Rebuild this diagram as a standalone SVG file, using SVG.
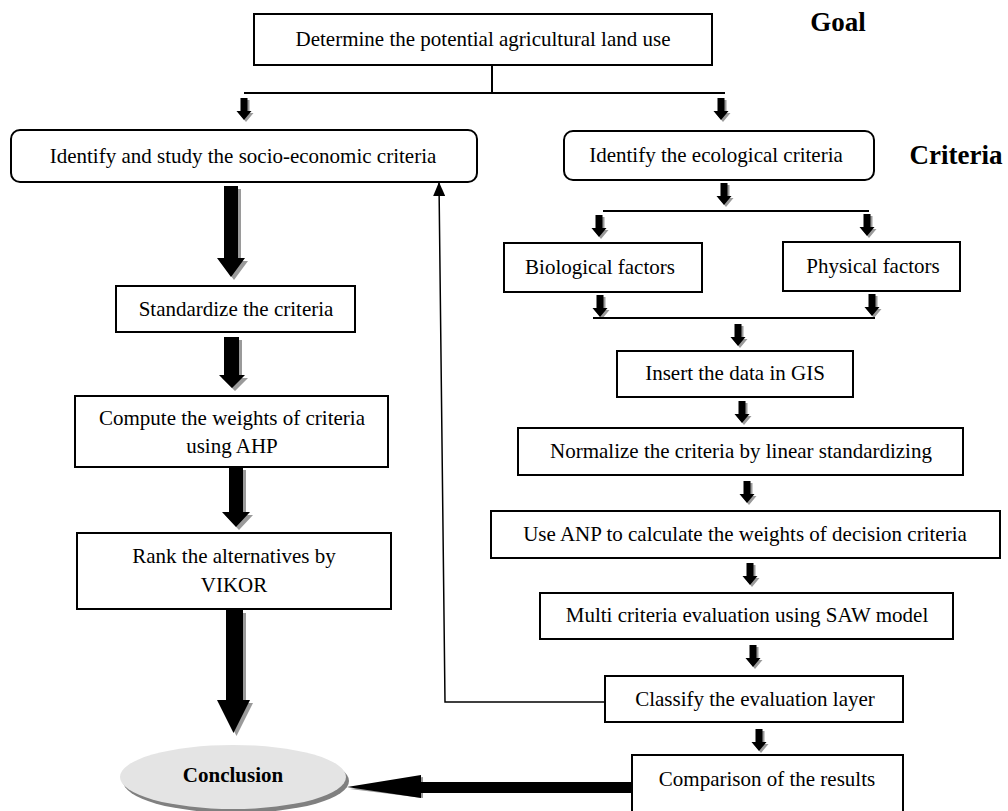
<svg xmlns="http://www.w3.org/2000/svg" width="1008" height="811" viewBox="0 0 1008 811">
<style>
.box{fill:#fff;stroke:#000;stroke-width:2}
.t{font-family:"Liberation Serif","Times New Roman",serif;font-size:21px;fill:#000;text-anchor:middle}
.b{font-weight:bold}
.ln{stroke:#000;stroke-width:2;fill:none}
.sh{fill:#9a9a9a}
.ar{fill:#000}
</style>
<defs>
<g id="sa">
<path class="sh" d="M-1.5,2 h7 v13 h4 l-7.5,9 l-7.5,-9 h4 z"/>
<path class="ar" d="M-3.5,0 h7 v13 h4 l-7.5,9 l-7.5,-9 h4 z"/>
</g>
<marker id="up" markerWidth="14" markerHeight="12" refX="13" refY="6" orient="auto" markerUnits="userSpaceOnUse" viewBox="0 0 14 12">
<path d="M0,0 L14,6 L0,12 z" fill="#000"/>
</marker>
</defs>

<text class="t b" x="838" y="31" style="font-size:27px">Goal</text>
<text class="t b" x="956" y="164" style="font-size:27px">Criteria</text>

<g id="connectors">
<path class="ln" d="M492,65 V93 M244,93 H725"/>
<use href="#sa" x="244" y="98"/>
<use href="#sa" x="721" y="98"/>
<use href="#sa" x="724" y="183"/>
<path class="ln" d="M603,211 H869"/>
<use href="#sa" x="599" y="215"/>
<use href="#sa" x="867" y="214"/>
<use href="#sa" x="600" y="295"/>
<use href="#sa" x="872" y="294"/>
<path class="ln" d="M593,318 H875"/>
<use href="#sa" x="738" y="324"/>
<use href="#sa" x="742" y="401"/>
<use href="#sa" x="747" y="481"/>
<use href="#sa" x="750" y="563"/>
<use href="#sa" x="753" y="645"/>
<use href="#sa" x="759" y="729"/>
<path d="M605,702 H445 L439,183" stroke="#000" stroke-width="1.5" fill="none" marker-end="url(#up)"/>
<path class="sh" d="M227,189 h14 v72 h7 l-14,19 l-14,-19 h7 z"/>
<path class="ar" d="M224,186 h14 v72 h7 l-14,19 l-14,-19 h7 z"/>
<path class="sh" d="M227,340 h15 v38 h6 l-13,13 l-13,-13 h5 z"/>
<path class="ar" d="M224,337 h15 v38 h6 l-13,13 l-13,-13 h5 z"/>
<path class="sh" d="M232,470 h14 v45 h7 l-14,15 l-14,-15 h7 z"/>
<path class="ar" d="M229,467 h14 v45 h7 l-14,15 l-14,-15 h7 z"/>
<path class="sh" d="M229,613 h17 v90 h7 l-16.5,33 l-16.5,-33 h9 z"/>
<path class="ar" d="M226,610 h17 v90 h7 l-16.5,33 l-16.5,-33 h9 z"/>
<path class="sh" d="M632,785 H423 v13 l-73,-9 l73,-12 v10 z"/>
<path class="ar" d="M632,782 H421 v-7 l-74,12 l74,11 v-5 H632 z"/>
</g>

<g id="goal"><rect class="box" x="254" y="14" width="458" height="51"/><text class="t" x="483" y="46">Determine the potential agricultural land use</text></g>
<g id="socio"><rect class="box" x="11" y="130" width="466" height="52" rx="9"/><text class="t" x="243" y="163">Identify and study the socio-economic criteria</text></g>
<g id="eco"><rect class="box" x="564" y="131" width="310" height="49" rx="9"/><text class="t" x="716" y="162">Identify the ecological criteria</text></g>
<g id="bio"><rect class="box" x="504" y="243" width="198" height="49"/><text class="t" x="600" y="274">Biological factors</text></g>
<g id="phys"><rect class="box" x="783" y="242" width="177" height="49"/><text class="t" x="873" y="273">Physical factors</text></g>
<g id="insert"><rect class="box" x="617" y="351" width="236" height="46"/><text class="t" x="735" y="380">Insert the data in GIS</text></g>
<g id="normalize"><rect class="box" x="518" y="428" width="445" height="47"/><text class="t" x="741" y="458">Normalize the criteria by linear standardizing</text></g>
<g id="anp"><rect class="box" x="491" y="511" width="509" height="47"/><text class="t" x="745" y="541">Use ANP to calculate the weights of decision criteria</text></g>
<g id="saw"><rect class="box" x="540" y="593" width="413" height="46"/><text class="t" x="747" y="622">Multi criteria evaluation using SAW model</text></g>
<g id="classify"><rect class="box" x="605" y="676" width="298" height="46"/><text class="t" x="755" y="706">Classify the evaluation layer</text></g>
<g id="comparison"><rect class="box" x="632" y="755" width="271" height="60"/><text class="t" x="767" y="786">Comparison of the results</text></g>
<g id="standardize"><rect class="box" x="116" y="286" width="239" height="46"/><text class="t" x="236" y="316">Standardize the criteria</text></g>
<g id="compute"><rect class="box" x="75" y="396" width="313" height="71"/><text class="t" x="232" y="425">Compute the weights of criteria</text><text class="t" x="232" y="453">using AHP</text></g>
<g id="rank"><rect class="box" x="77" y="533" width="314" height="76"/><text class="t" x="234" y="563">Rank the alternatives by</text><text class="t" x="234" y="592">VIKOR</text></g>
<g id="conclusion"><ellipse cx="236" cy="781" rx="113" ry="32" fill="#808080"/><ellipse cx="233" cy="777" rx="113" ry="32" fill="#e4e4e4"/><text class="t b" x="233" y="782">Conclusion</text></g>
</svg>
